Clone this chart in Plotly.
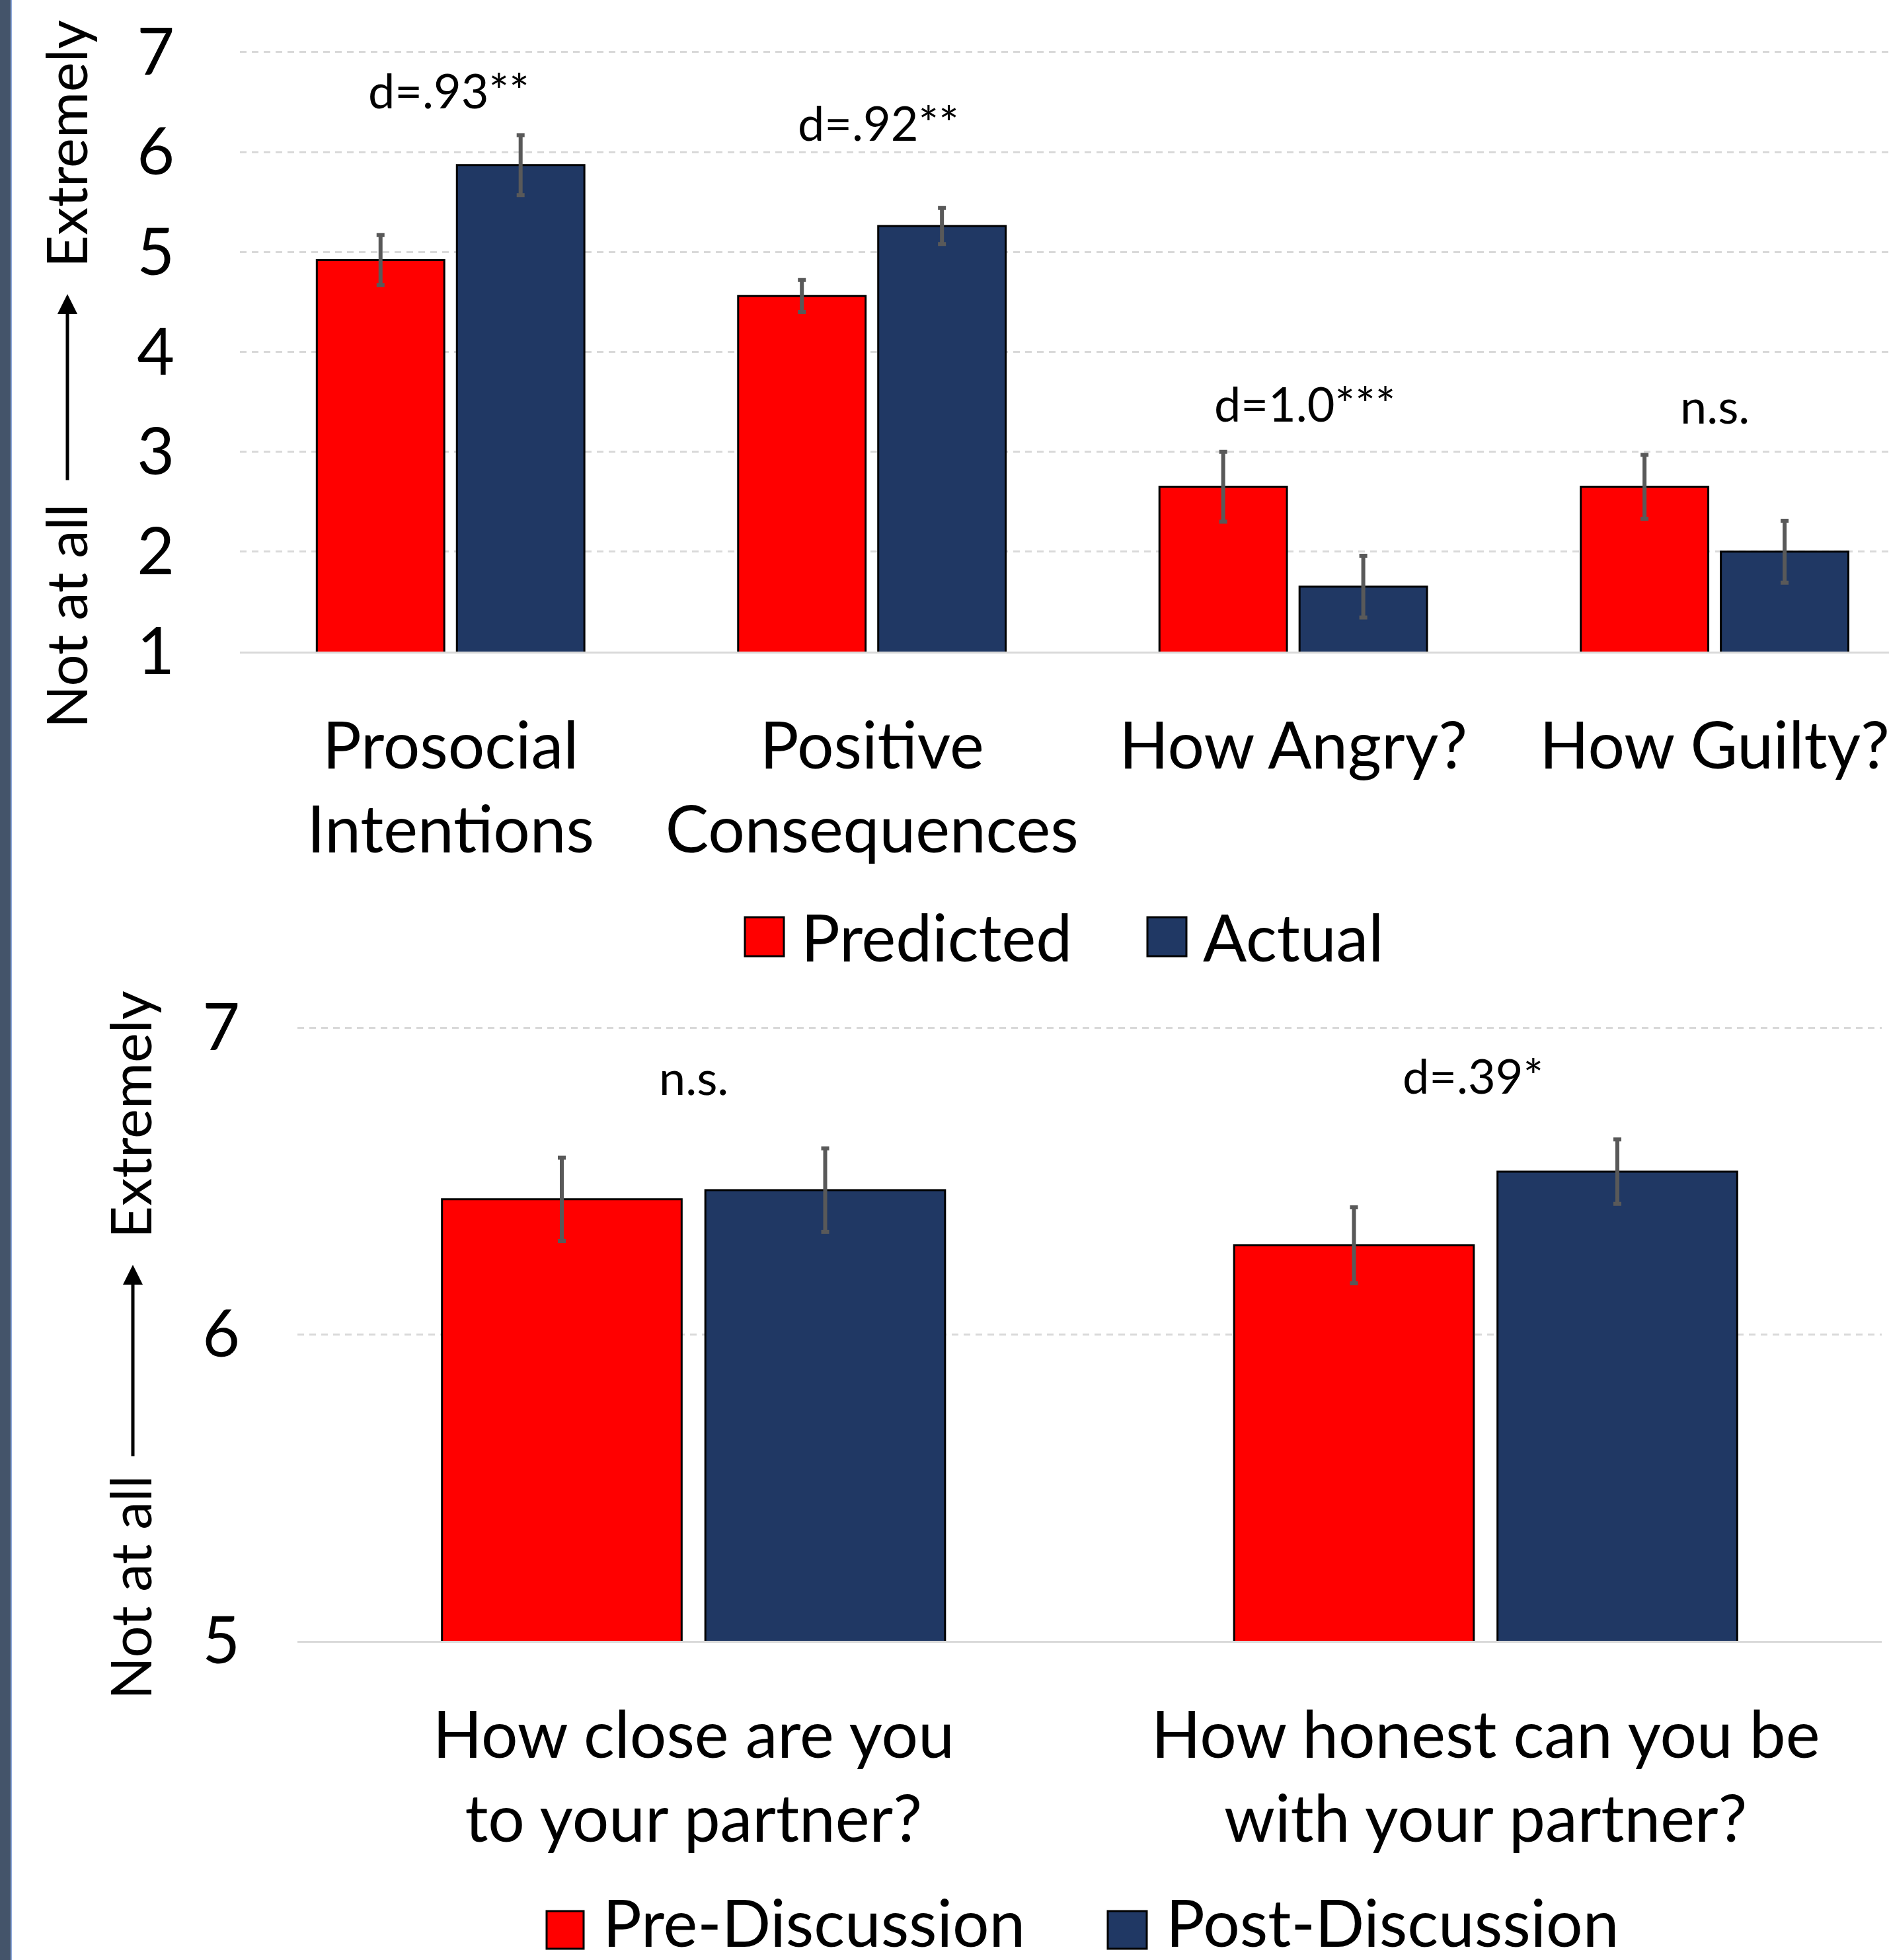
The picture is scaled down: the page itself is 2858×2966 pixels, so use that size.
import plotly.graph_objects as go

# ---------------- data ----------------
top_categories = ["Prosocial<br>Intentions", "Positive<br>Consequences", "How Angry?", "How Guilty?"]
top_predicted = [4.92, 4.56, 2.65, 2.65]
top_predicted_err = [0.25, 0.16, 0.35, 0.32]
top_actual = [5.87, 5.26, 1.65, 2.00]
top_actual_err = [0.30, 0.18, 0.31, 0.31]
top_effects = ["d=.93**", "d=.92**", "d=1.0***", "n.s."]
top_tickvals = [1, 2, 3, 4, 5, 6, 7]

bot_categories = ["How close are you<br>to your partner?", "How honest can you be<br>with your partner?"]
bot_pre = [6.44, 6.29]
bot_pre_err = [0.136, 0.124]
bot_post = [6.47, 6.53]
bot_post_err = [0.136, 0.105]
bot_effects = ["n.s.", "d=.39*"]
bot_tickvals = [5, 6, 7]

# ---------------- layout helpers ----------------
W, H = 2858, 2966
FONT = "Lato"
RED = "#FF0000"
NAVY = "#203864"
ERR = "#595959"
GRID = "#D9D9D9"

def px(x):
    return x / W

def py(y):
    return 1 - y / H

# label placement (layout only)
top_label_y = [6.62, 6.30, 3.49, 3.47]
top_label_dx = [-3, 10, 17, 0]
bot_label_y = [6.84, 6.845]
bot_label_dx = [0, -19]

# vertical pixel geometry of the two panels (top of scale, baseline)
TOP_Y7, TOP_Y1 = 79, 986
BOT_Y7, BOT_Y5 = 1555, 2483
TOP_RMAX = 7.02
BOT_RMAX = 7.01
top_unit = (TOP_Y1 - TOP_Y7) / 6
bot_unit = (BOT_Y5 - BOT_Y7) / 2
top_dom_top = TOP_Y7 - (TOP_RMAX - 7) * top_unit
bot_dom_top = BOT_Y7 - (BOT_RMAX - 7) * bot_unit

fig = go.Figure()

def bar(x, y, err, color, name, xa, ya):
    return go.Bar(
        x=x, y=y, name=name, xaxis=xa, yaxis=ya,
        marker=dict(color=color, line=dict(color="#000000", width=3)),
        error_y=dict(type="data", array=err, visible=True, color=ERR, thickness=6, width=6),
        showlegend=False,
    )

fig.add_trace(bar(top_categories, top_predicted, top_predicted_err, RED, "Predicted", "x", "y"))
fig.add_trace(bar(top_categories, top_actual, top_actual_err, NAVY, "Actual", "x", "y"))
fig.add_trace(bar(bot_categories, bot_pre, bot_pre_err, RED, "Pre-Discussion", "x2", "y2"))
fig.add_trace(bar(bot_categories, bot_post, bot_post_err, NAVY, "Post-Discussion", "x2", "y2"))

tickfont = dict(family=FONT, size=98, color="#000000")

fig.update_layout(
    width=W, height=H, autosize=False,
    margin=dict(l=0, r=0, t=0, b=0, pad=0),
    paper_bgcolor="white", plot_bgcolor="white",
    barmode="group", bargap=0.335, bargroupgap=0.09,
    font=dict(family=FONT, color="#000000"),
    xaxis=dict(domain=[px(363), 1.0], anchor="y", range=[-0.5, 3.414], automargin=False,
               showline=True, linecolor=GRID, linewidth=3, showgrid=False,
               ticks="", tickfont=tickfont, ticklabelstandoff=56),
    yaxis=dict(domain=[py(TOP_Y1), py(top_dom_top)], anchor="x", range=[1, TOP_RMAX], automargin=False,
               tickvals=top_tickvals, showgrid=True, gridcolor=GRID, gridwidth=3,
               griddash="10px,8px", zeroline=False, showline=False, ticks="",
               tickfont=tickfont, ticklabelstandoff=98),
    xaxis2=dict(domain=[px(450), px(2847)], anchor="y2", range=[-0.5, 1.5], automargin=False,
                showline=True, linecolor=GRID, linewidth=3, showgrid=False,
                ticks="", tickfont=tickfont, ticklabelstandoff=56),
    yaxis2=dict(domain=[py(BOT_Y5), py(bot_dom_top)], anchor="x2", range=[5, BOT_RMAX], automargin=False,
                tickvals=bot_tickvals, showgrid=True, gridcolor=GRID, gridwidth=3,
                griddash="10px,8px", zeroline=False, showline=False, ticks="",
                tickfont=tickfont, ticklabelstandoff=86),
)

ann = []
# effect-size labels
for c, t, yv, dx in zip(top_categories, top_effects, top_label_y, top_label_dx):
    ann.append(dict(x=c, y=yv, xref="x", yref="y", text=t, showarrow=False, xshift=dx,
                    font=dict(family=FONT, size=72, color="#000000")))
for c, t, yv, dx in zip(bot_categories, bot_effects, bot_label_y, bot_label_dx):
    ann.append(dict(x=c, y=yv, xref="x2", yref="y2", text=t, showarrow=False, xshift=dx,
                    font=dict(family=FONT, size=72, color="#000000")))

# y-axis titles with arrows
def yaxis_title(xc, xa, y_ext, y_not, y_head, y_tail):
    out = []
    f = dict(family=FONT, size=85, color="#000000")
    out.append(dict(x=px(xc), y=py(y_ext), xref="paper", yref="paper", text="Extremely",
                    textangle=-90, showarrow=False, font=f, xanchor="center", yanchor="middle"))
    out.append(dict(x=px(xc), y=py(y_not), xref="paper", yref="paper", text="Not at all",
                    textangle=-90, showarrow=False, font=f, xanchor="center", yanchor="middle"))
    out.append(dict(x=px(xa), y=py(y_head), xref="paper", yref="paper", text="",
                    showarrow=True, ax=0, ay=(y_tail - y_head), axref="pixel", ayref="pixel",
                    arrowhead=2, arrowsize=1.2, arrowwidth=5, arrowcolor="#000000"))
    return out

ann += yaxis_title(99, 102, 218, 932, 445, 728)
ann += yaxis_title(196, 201, 1686, 2402, 1914, 2205)

# custom legends
shapes = []
def legend_item(x0, x1, y0, y1, color, label, tx, ty):
    shapes.append(dict(type="rect", xref="paper", yref="paper",
                       x0=px(x0), x1=px(x1), y0=py(y1), y1=py(y0),
                       fillcolor=color, line=dict(color="#000000", width=3)))
    ann.append(dict(x=px(tx), y=py(ty), xref="paper", yref="paper", text=label,
                    showarrow=False, xanchor="left", yanchor="middle",
                    font=dict(family=FONT, size=98, color="#000000")))

legend_item(1127, 1186, 1388, 1447, RED, "Predicted", 1210, 1417)
legend_item(1736, 1795, 1388, 1447, NAVY, "Actual", 1818, 1417)
legend_item(827, 883, 2892, 2949, RED, "Pre-Discussion", 910, 2908)
legend_item(1676, 1735, 2892, 2949, NAVY, "Post-Discussion", 1762, 2908)

# left-edge slide band
shapes.append(dict(type="rect", xref="paper", yref="paper", x0=0, x1=px(16), y0=0, y1=1,
                   fillcolor="#44546A", line=dict(width=0), layer="above"))
shapes.append(dict(type="line", xref="paper", yref="paper", x0=px(17), x1=px(17), y0=0, y1=1,
                   line=dict(color="#8FAADC", width=2), layer="above"))

fig.update_layout(annotations=ann, shapes=shapes)

fig.write_html("out.html", config={"displayModeBar": False},
               post_script="document.body.style.margin='0px';")
